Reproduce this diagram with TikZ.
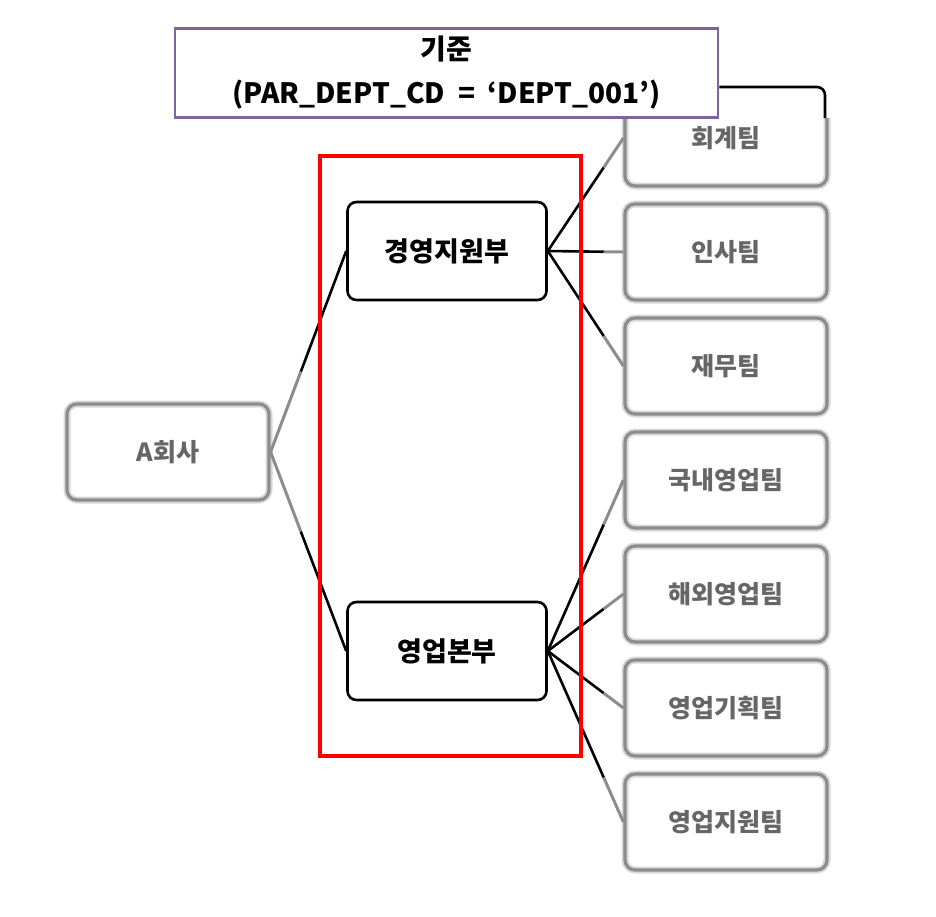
\documentclass[tikz,border=0pt]{standalone}
\usepackage{fontspec}
\setmainfont{Noto Sans CJK KR}
\usetikzlibrary{calc}
\begin{document}
\begin{tikzpicture}[x=1pt,y=-1pt,
  dept/.style={draw=black,line width=2.6pt,rounded corners=9pt,minimum width=199pt,minimum height=98pt,inner sep=0pt,font=\fontsize{27}{30}\selectfont\bfseries},
  fuzzy/.style={draw=black!45,line width=3.2pt,rounded corners=10pt,minimum width=202pt,minimum height=96pt,inner sep=0pt,text=black!60,font=\fontsize{25}{28}\selectfont\bfseries,
     preaction={draw=black!15,line width=7pt}},
  link/.style={line width=2.6pt,black},
  fuzzlink/.style={line width=3pt,black!45}]
\useasboundingbox (0,0) rectangle (936,916);
% blurred team nodes
\begin{scope}
\clip (598,118) rectangle (840,876);
\node[fuzzy] (t1) at (726,138) {회계팀};
\node[fuzzy] (t2) at (726,252) {인사팀};
\node[fuzzy] (t3) at (726,366) {재무팀};
\node[fuzzy] (t4) at (726,480) {국내영업팀};
\node[fuzzy] (t5) at (726,594) {해외영업팀};
\node[fuzzy] (t6) at (726,708) {영업기획팀};
\node[fuzzy] (t7) at (726,822) {영업지원팀};
\end{scope}
\node[fuzzy] (a) at (168,452) {A회사};
% departments
\node[dept] (d1) at (447,251) {경영지원부};
\node[dept] (d2) at (447,651) {영업본부};
% links from company
\foreach \d in {d1,d2}{
  \draw[fuzzlink] (a.east) -- ($(a.east)!0.4!(\d.west)$);
  \draw[link] ($(a.east)!0.4!(\d.west)$) -- (\d.west);
}
% links to teams
\foreach \t in {t1,t2,t3}{
  \draw[link] (d1.east) -- ($(d1.east)!0.74!(\t.west)$);
  \draw[fuzzlink] ($(d1.east)!0.74!(\t.west)$) -- (\t.west);
}
\foreach \t in {t4,t5,t6,t7}{
  \draw[link] (d2.east) -- ($(d2.east)!0.74!(\t.west)$);
  \draw[fuzzlink] ($(d2.east)!0.74!(\t.west)$) -- (\t.west);
}
% red highlight
\node[draw=red,line width=4pt,minimum width=261pt,minimum height=600pt,inner sep=0pt] (hl) at (450.5,456) {};
% criterion box
\node[draw={rgb,255:red,128;green,100;blue,162},line width=2.6pt,fill=white,minimum width=543pt,minimum height=89pt,inner sep=0pt,align=center,font=\fontsize{28}{44}\selectfont\bfseries] (k) at (446.5,73) {기준\\(PAR\_DEPT\_CD\ \ =\ \ ‘DEPT\_001’)};
\coordinate (kend) at (825,118);
\draw[line width=2.6pt,rounded corners=8pt] (k.east|-0,87) -- (825,87) -- (kend);
\end{tikzpicture}
\end{document}
